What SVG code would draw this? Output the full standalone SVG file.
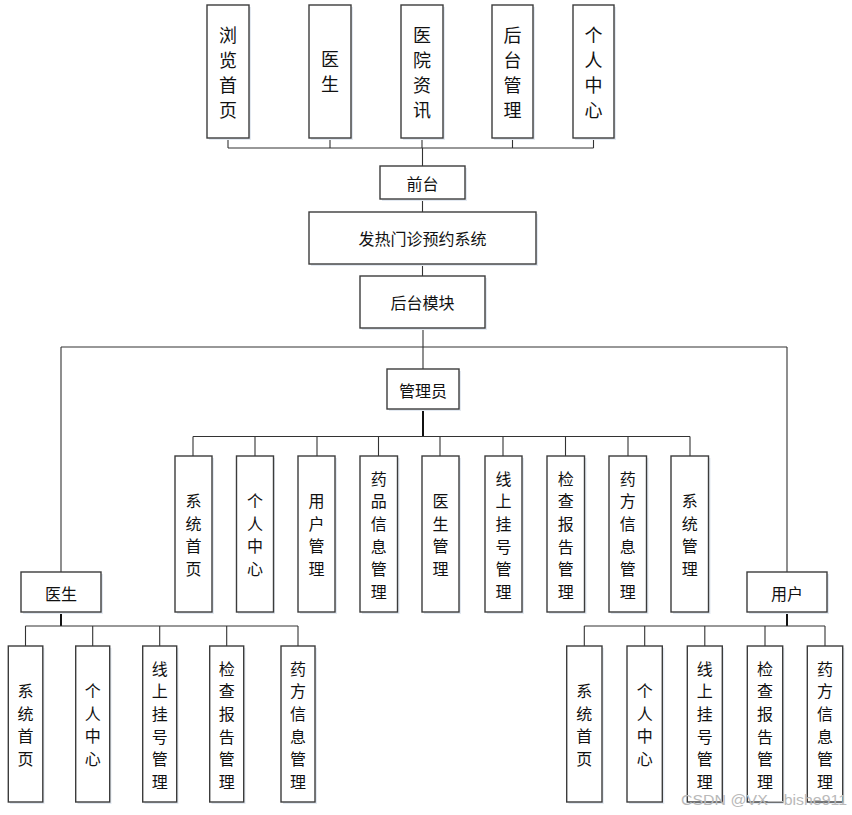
<svg xmlns="http://www.w3.org/2000/svg" width="852" height="815" viewBox="0 0 852 815">
<style>
.bx{fill:#fff;stroke:#3c3c3c;stroke-width:1.4}
.sh{fill:#e3e9f1}
.t{font-family:"Noto Sans CJK SC","Noto Sans",sans-serif;fill:#111;text-anchor:middle;dominant-baseline:central}
.t18{font-size:18px}
.t16{font-size:16px}
.ln{stroke:#333;stroke-width:1.1;fill:none}
.lk{stroke:#111;stroke-width:2;fill:none}
.wm{font-family:"Liberation Sans",Arial,sans-serif;font-size:15px;fill:#b9b9b9}
</style>
<rect width="852" height="815" fill="#fff"/>
<g id="connectors">
<path class="ln" d="M228,138V148M330,138V148M422,138V148M512.5,138V148M593.5,138V148M228,148H593.5M422.5,148V166"/>
<path class="ln" d="M422.5,199V212M422.5,264V276M423,328V369"/>
<path class="ln" d="M61,347H787M61,347V572M787,347V572"/>
<path class="lk" d="M423,409V436.5"/>
<path class="ln" d="M193,436.5H690M193,436.5V456M255,436.5V456M317,436.5V456M378.5,436.5V456M440,436.5V456M503,436.5V456M565.5,436.5V456M628,436.5V456M690,436.5V456"/>
<path class="lk" d="M61,612V626M787,612V626"/>
<path class="ln" d="M25.5,626H298M25.5,626V646M92.7,626V646M159.7,626V646M226.7,626V646M298,626V646"/>
<path class="ln" d="M584.3,626H825M584.3,626V646M644.7,626V646M704.8,626V646M765,626V646M825,626V646"/>
</g>
<g id="n-llsy"><rect class="sh" x="209" y="7" width="42" height="133"/><rect class="bx" x="207" y="5" width="42" height="133"/>
<text class="t t18"><tspan x="228" y="34">浏</tspan><tspan x="228" y="59">览</tspan><tspan x="228" y="84">首</tspan><tspan x="228" y="109">页</tspan></text></g>
<g id="n-ys-top"><rect class="sh" x="311" y="7" width="42" height="133"/><rect class="bx" x="309" y="5" width="42" height="133"/>
<text class="t t18"><tspan x="330" y="58">医</tspan><tspan x="330" y="83">生</tspan></text></g>
<g id="n-yyzx"><rect class="sh" x="403" y="7" width="42" height="133"/><rect class="bx" x="401" y="5" width="42" height="133"/>
<text class="t t18"><tspan x="422" y="34">医</tspan><tspan x="422" y="59">院</tspan><tspan x="422" y="84">资</tspan><tspan x="422" y="109">讯</tspan></text></g>
<g id="n-htgl"><rect class="sh" x="494" y="7" width="41" height="133"/><rect class="bx" x="492" y="5" width="41" height="133"/>
<text class="t t18"><tspan x="512.5" y="34">后</tspan><tspan x="512.5" y="59">台</tspan><tspan x="512.5" y="84">管</tspan><tspan x="512.5" y="109">理</tspan></text></g>
<g id="n-grzx-top"><rect class="sh" x="575" y="7" width="41" height="133"/><rect class="bx" x="573" y="5" width="41" height="133"/>
<text class="t t18"><tspan x="593.5" y="34">个</tspan><tspan x="593.5" y="59">人</tspan><tspan x="593.5" y="84">中</tspan><tspan x="593.5" y="109">心</tspan></text></g>
<g id="n-qt"><rect class="sh" x="382" y="168" width="85" height="33"/><rect class="bx" x="380" y="166" width="85" height="33"/>
<text class="t t16" x="422.5" y="183">前台</text></g>
<g id="n-sys"><rect class="sh" x="311" y="214" width="227" height="52"/><rect class="bx" x="309" y="212" width="227" height="52"/>
<text class="t t16" x="422.5" y="238">发热门诊预约系统</text></g>
<g id="n-htmk"><rect class="sh" x="362" y="278" width="125" height="52"/><rect class="bx" x="360" y="276" width="125" height="52"/>
<text class="t t16" x="422.5" y="302">后台模块</text></g>
<g id="n-admin"><rect class="sh" x="389" y="371" width="72" height="40"/><rect class="bx" x="387" y="369" width="72" height="40"/>
<text class="t t16" x="423" y="390">管理员</text></g>
<g id="n-doctor"><rect class="sh" x="23" y="574" width="80" height="40"/><rect class="bx" x="21" y="572" width="80" height="40"/>
<text class="t t16" x="61" y="593">医生</text></g>
<g id="n-user"><rect class="sh" x="749" y="574" width="80" height="40"/><rect class="bx" x="747" y="572" width="80" height="40"/>
<text class="t t16" x="787" y="593">用户</text></g>
<g id="n-a1"><rect class="sh" x="177" y="458" width="37" height="156"/><rect class="bx" x="175" y="456" width="37" height="156"/>
<text class="t t16"><tspan x="193.5" y="500">系</tspan><tspan x="193.5" y="522.7">统</tspan><tspan x="193.5" y="545.3">首</tspan><tspan x="193.5" y="568">页</tspan></text></g>
<g id="n-a2"><rect class="sh" x="238" y="458" width="37" height="156"/><rect class="bx" x="236.5" y="456" width="37" height="156"/>
<text class="t t16"><tspan x="255" y="500">个</tspan><tspan x="255" y="522.7">人</tspan><tspan x="255" y="545.3">中</tspan><tspan x="255" y="568">心</tspan></text></g>
<g id="n-a3"><rect class="sh" x="300" y="458" width="37" height="156"/><rect class="bx" x="298" y="456" width="37" height="156"/>
<text class="t t16"><tspan x="316.5" y="500">用</tspan><tspan x="316.5" y="522.7">户</tspan><tspan x="316.5" y="545.3">管</tspan><tspan x="316.5" y="568">理</tspan></text></g>
<g id="n-a4"><rect class="sh" x="362" y="458" width="37.5" height="156"/><rect class="bx" x="360" y="456" width="37.5" height="156"/>
<text class="t t16"><tspan x="378.7" y="477.5">药</tspan><tspan x="378.7" y="500">品</tspan><tspan x="378.7" y="523">信</tspan><tspan x="378.7" y="545.5">息</tspan><tspan x="378.7" y="568">管</tspan><tspan x="378.7" y="590.6">理</tspan></text></g>
<g id="n-a5"><rect class="sh" x="424" y="458" width="37" height="156"/><rect class="bx" x="422" y="456" width="37" height="156"/>
<text class="t t16"><tspan x="440.5" y="500">医</tspan><tspan x="440.5" y="522.7">生</tspan><tspan x="440.5" y="545.3">管</tspan><tspan x="440.5" y="568">理</tspan></text></g>
<g id="n-a6"><rect class="sh" x="487" y="458" width="37" height="156"/><rect class="bx" x="485" y="456" width="37" height="156"/>
<text class="t t16"><tspan x="503.5" y="477.5">线</tspan><tspan x="503.5" y="500">上</tspan><tspan x="503.5" y="523">挂</tspan><tspan x="503.5" y="545.5">号</tspan><tspan x="503.5" y="568">管</tspan><tspan x="503.5" y="590.6">理</tspan></text></g>
<g id="n-a7"><rect class="sh" x="549" y="458" width="37.5" height="156"/><rect class="bx" x="547" y="456" width="37.5" height="156"/>
<text class="t t16"><tspan x="565.7" y="477.5">检</tspan><tspan x="565.7" y="500">查</tspan><tspan x="565.7" y="523">报</tspan><tspan x="565.7" y="545.5">告</tspan><tspan x="565.7" y="568">管</tspan><tspan x="565.7" y="590.6">理</tspan></text></g>
<g id="n-a8"><rect class="sh" x="611" y="458" width="37.5" height="156"/><rect class="bx" x="609" y="456" width="37.5" height="156"/>
<text class="t t16"><tspan x="627.8" y="477.5">药</tspan><tspan x="627.8" y="500">方</tspan><tspan x="627.8" y="523">信</tspan><tspan x="627.8" y="545.5">息</tspan><tspan x="627.8" y="568">管</tspan><tspan x="627.8" y="590.6">理</tspan></text></g>
<g id="n-a9"><rect class="sh" x="673" y="458" width="37.5" height="156"/><rect class="bx" x="671" y="456" width="37.5" height="156"/>
<text class="t t16"><tspan x="689.8" y="500">系</tspan><tspan x="689.8" y="522.7">统</tspan><tspan x="689.8" y="545.3">管</tspan><tspan x="689.8" y="568">理</tspan></text></g>
<g id="n-d1"><rect class="sh" x="10" y="648" width="34.5" height="156"/><rect class="bx" x="8.3" y="646" width="34.5" height="156"/>
<text class="t t16"><tspan x="25.5" y="690">系</tspan><tspan x="25.5" y="712.7">统</tspan><tspan x="25.5" y="735.3">首</tspan><tspan x="25.5" y="758">页</tspan></text></g>
<g id="n-d2"><rect class="sh" x="77.5" y="648" width="34" height="156"/><rect class="bx" x="75.7" y="646" width="34" height="156"/>
<text class="t t16"><tspan x="92.7" y="690">个</tspan><tspan x="92.7" y="712.7">人</tspan><tspan x="92.7" y="735.3">中</tspan><tspan x="92.7" y="758">心</tspan></text></g>
<g id="n-d3"><rect class="sh" x="144.5" y="648" width="34" height="156"/><rect class="bx" x="142.7" y="646" width="34" height="156"/>
<text class="t t16"><tspan x="159.7" y="667.5">线</tspan><tspan x="159.7" y="690">上</tspan><tspan x="159.7" y="713">挂</tspan><tspan x="159.7" y="735.5">号</tspan><tspan x="159.7" y="758">管</tspan><tspan x="159.7" y="780.6">理</tspan></text></g>
<g id="n-d4"><rect class="sh" x="211.5" y="648" width="34" height="156"/><rect class="bx" x="209.7" y="646" width="34" height="156"/>
<text class="t t16"><tspan x="226.7" y="667.5">检</tspan><tspan x="226.7" y="690">查</tspan><tspan x="226.7" y="713">报</tspan><tspan x="226.7" y="735.5">告</tspan><tspan x="226.7" y="758">管</tspan><tspan x="226.7" y="780.6">理</tspan></text></g>
<g id="n-d5"><rect class="sh" x="283" y="648" width="34" height="156"/><rect class="bx" x="281" y="646" width="34" height="156"/>
<text class="t t16"><tspan x="298" y="667.5">药</tspan><tspan x="298" y="690">方</tspan><tspan x="298" y="713">信</tspan><tspan x="298" y="735.5">息</tspan><tspan x="298" y="758">管</tspan><tspan x="298" y="780.6">理</tspan></text></g>
<g id="n-u1"><rect class="sh" x="568.5" y="648" width="35.3" height="156"/><rect class="bx" x="566.7" y="646" width="35.3" height="156"/>
<text class="t t16"><tspan x="584.3" y="690">系</tspan><tspan x="584.3" y="712.7">统</tspan><tspan x="584.3" y="735.3">首</tspan><tspan x="584.3" y="758">页</tspan></text></g>
<g id="n-u2"><rect class="sh" x="629" y="648" width="35.3" height="156"/><rect class="bx" x="627" y="646" width="35.3" height="156"/>
<text class="t t16"><tspan x="644.7" y="690">个</tspan><tspan x="644.7" y="712.7">人</tspan><tspan x="644.7" y="735.3">中</tspan><tspan x="644.7" y="758">心</tspan></text></g>
<g id="n-u3"><rect class="sh" x="689" y="648" width="35" height="156"/><rect class="bx" x="687.3" y="646" width="35" height="156"/>
<text class="t t16"><tspan x="704.8" y="667.5">线</tspan><tspan x="704.8" y="690">上</tspan><tspan x="704.8" y="713">挂</tspan><tspan x="704.8" y="735.5">号</tspan><tspan x="704.8" y="758">管</tspan><tspan x="704.8" y="780.6">理</tspan></text></g>
<g id="n-u4"><rect class="sh" x="749" y="648" width="35.4" height="156"/><rect class="bx" x="747.3" y="646" width="35.4" height="156"/>
<text class="t t16"><tspan x="765" y="667.5">检</tspan><tspan x="765" y="690">查</tspan><tspan x="765" y="713">报</tspan><tspan x="765" y="735.5">告</tspan><tspan x="765" y="758">管</tspan><tspan x="765" y="780.6">理</tspan></text></g>
<g id="n-u5"><rect class="sh" x="809" y="648" width="35.4" height="156"/><rect class="bx" x="807.3" y="646" width="35.4" height="156"/>
<text class="t t16"><tspan x="825" y="667.5">药</tspan><tspan x="825" y="690">方</tspan><tspan x="825" y="713">信</tspan><tspan x="825" y="735.5">息</tspan><tspan x="825" y="758">管</tspan><tspan x="825" y="780.6">理</tspan></text></g>
<text class="wm" x="681" y="805" textLength="166" lengthAdjust="spacingAndGlyphs">CSDN @VX—bishe911</text>
</svg>
